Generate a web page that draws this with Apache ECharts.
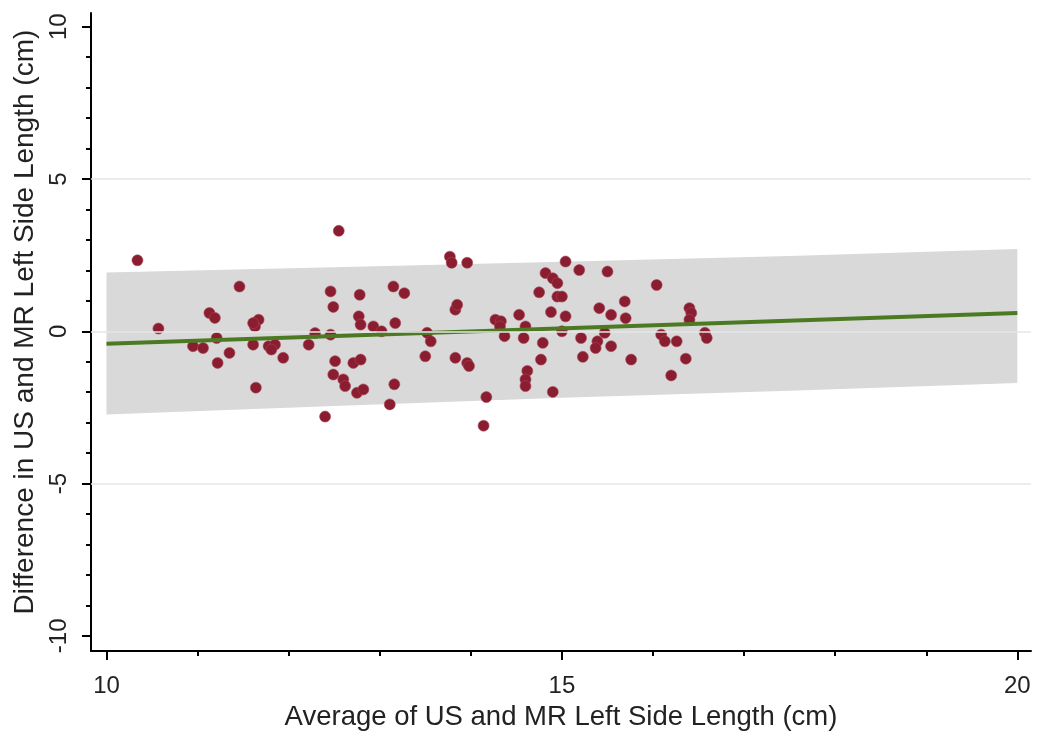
<!DOCTYPE html>
<html>
<head>
<meta charset="utf-8">
<title>Bland-Altman left side length</title>
<script src="https://cdn.jsdelivr.net/npm/echarts@6/dist/echarts.min.js"></script>
<style>
  html, body { margin: 0; padding: 0; background: #fff; }
  #chart { width: 1050px; height: 736px; }
</style>
</head>
<body>
<div id="chart"></div>
<script>
// average of US and MR (x) / difference US - MR (y)
const avgLength = [
  10.34, 10.57, 10.95, 11.06, 11.13, 11.19, 11.21, 11.35, 11.22, 11.46,
  11.67, 11.63, 11.61, 11.61, 11.78, 11.85, 11.81, 11.94, 11.64, 12.22,
  12.29, 12.55, 12.46, 12.49, 12.78, 13.15, 13.27, 12.77, 12.79, 12.46,
  12.93, 13.02, 13.17, 12.51, 12.71, 12.79, 12.49, 12.60, 12.62, 12.75,
  12.82, 13.16, 13.11, 12.40, 13.77, 13.79, 13.96, 13.83, 13.85, 14.27,
  14.33, 14.53, 14.37, 14.32, 13.52, 13.56, 13.50, 13.83, 13.96, 13.98,
  14.58, 14.17, 14.14, 15.04, 15.19, 15.50, 14.82, 14.90, 14.95, 14.75,
  14.95, 15.00, 14.88, 15.04, 15.41, 15.54, 15.69, 15.70, 14.60, 14.79,
  15.00, 15.21, 15.39, 15.37, 15.47, 15.54, 15.23, 14.77, 14.62, 14.60,
  14.60, 14.90, 16.04, 16.40, 16.42, 16.40, 16.09, 16.13, 16.26, 16.57,
  16.59, 15.76, 16.36, 16.20
];
const diffLength = [
  2.33, 0.09, -0.49, -0.55, 0.60, 0.44, -0.22, -0.71, -1.04, 1.47,
  0.38, 0.16, 0.27, -0.44, -0.49, -0.44, -0.60, -0.87, -1.85, -0.44,
  -0.06, 3.30, 1.31, 0.80, 1.20, 1.47, 1.25, 0.49, 0.22, -0.11,
  0.16, 0.00, 0.27, -0.98, -1.04, -0.93, -1.42, -1.58, -1.80, -2.02,
  -1.91, -1.74, -2.40, -2.80, 2.45, 2.25, 2.25, 0.71, 0.87, 0.38,
  0.33, 0.54, -0.16, 0.16, -0.05, -0.33, -0.82, -0.87, -1.04, -1.14,
  -0.22, -2.16, -3.10, 2.29, 2.01, 1.96, 1.91, 1.74, 1.58, 1.28,
  1.14, 1.14, 0.63, 0.49, 0.76, 0.54, 0.98, 0.43, 0.16, -0.38,
  0.00, -0.22, -0.33, -0.55, -0.05, -0.49, -0.84, -0.93, -1.30, -1.58,
  -1.80, -1.99, 1.52, 0.76, 0.60, 0.38, -0.11, -0.33, -0.33, -0.05,
  -0.22, -0.93, -0.90, -1.45
];

// fitted line and its prediction band
const fitX = [10, 20];
const fitY = [-0.41, 0.60];
const bandX = [10, 12.5, 15, 17.5, 20];
const bandUpper = [1.93, 2.10, 2.28, 2.47, 2.70];
const bandLower = [-2.73, -2.45, -2.18, -1.95, -1.70];

// ticks
const xMajor = [10, 15, 20];
const xMinor = [11, 12, 13, 14, 16, 17, 18, 19];
const yMajor = [-10, -5, 0, 5, 10];
const yMinor = [-9, -8, -7, -6, -4, -3, -2, -1, 1, 2, 3, 4, 6, 7, 8, 9];
const gridLevels = [-5, 0, 5];

const chart = echarts.init(document.getElementById('chart'), null, { renderer: 'canvas' });

const FONT = 'Liberation Sans, Arial, sans-serif';
const xRange = { min: 9.83, max: 20.15 };
const yRange = { min: -10.5, max: 10.45 };

const option = {
  backgroundColor: '#ffffff',
  animation: false,
  grid: { left: 91, right: 19, top: 13, bottom: 82 },
  xAxis: [
    {
      type: 'value', ...xRange,
      name: 'Average of US and MR Left Side Length (cm)',
      nameLocation: 'middle', nameGap: 49,
      nameTextStyle: { fontFamily: FONT, fontSize: 27.5, color: '#222' },
      axisLine: { show: true, onZero: false, lineStyle: { color: '#000', width: 2 } },
      axisTick: { show: true, customValues: xMajor, length: 9, lineStyle: { color: '#000', width: 2 } },
      axisLabel: { customValues: xMajor, margin: 23, fontFamily: FONT, fontSize: 24, color: '#222' },
      splitLine: { show: false }
    },
    {
      type: 'value', ...xRange, position: 'bottom',
      axisLine: { show: false, onZero: false },
      axisTick: { show: true, customValues: xMinor, length: 5, lineStyle: { color: '#000', width: 2 } },
      axisLabel: { show: false },
      splitLine: { show: false }
    }
  ],
  yAxis: [
    {
      type: 'value', ...yRange,
      name: 'Difference in US and MR Left Side Length (cm)',
      nameLocation: 'middle', nameGap: 32,
      nameTextStyle: { fontFamily: FONT, fontSize: 28, color: '#222', padding: [0, 0, 0, 20] },
      axisLine: { show: true, onZero: false, lineStyle: { color: '#000', width: 2 } },
      axisTick: { show: true, customValues: yMajor, length: 9, lineStyle: { color: '#000', width: 2 } },
      axisLabel: { customValues: yMajor, rotate: 90, margin: 20, fontFamily: FONT, fontSize: 24, color: '#222' },
      splitLine: { show: false }
    },
    {
      type: 'value', ...yRange, position: 'left',
      axisLine: { show: false, onZero: false },
      axisTick: { show: true, customValues: yMinor, length: 5, lineStyle: { color: '#000', width: 2 } },
      axisLabel: { show: false },
      splitLine: { show: false }
    }
  ],
  series: [
    {
      // light horizontal grid lines
      type: 'line', data: [], z: 1, silent: true,
      markLine: {
        silent: true, symbol: 'none', label: { show: false },
        lineStyle: { color: '#e6e6e6', width: 1.5, type: 'solid' },
        data: gridLevels.map(v => ({ yAxis: v }))
      }
    },
    {
      // prediction band
      type: 'custom', z: 2, silent: true,
      data: [[bandX[0], bandLower[0]]],
      renderItem: function (params, api) {
        const pts = [];
        for (let i = 0; i < bandX.length; i++) pts.push(api.coord([bandX[i], bandUpper[i]]));
        for (let i = bandX.length - 1; i >= 0; i--) pts.push(api.coord([bandX[i], bandLower[i]]));
        return { type: 'polygon', shape: { points: pts }, style: { fill: '#d9d9d9' } };
      }
    },
    {
      type: 'scatter', z: 3,
      data: avgLength.map((x, i) => [x, diffLength[i]]),
      symbol: 'circle', symbolSize: 11,
      itemStyle: { color: '#8a1d2f', borderColor: '#a8475a', borderWidth: 0.6, opacity: 1 }
    },
    {
      type: 'line', z: 4,
      data: fitX.map((x, i) => [x, fitY[i]]),
      symbol: 'none',
      lineStyle: { color: '#4c7a22', width: 4 }
    }
  ]
};

chart.setOption(option);
</script>
</body>
</html>
